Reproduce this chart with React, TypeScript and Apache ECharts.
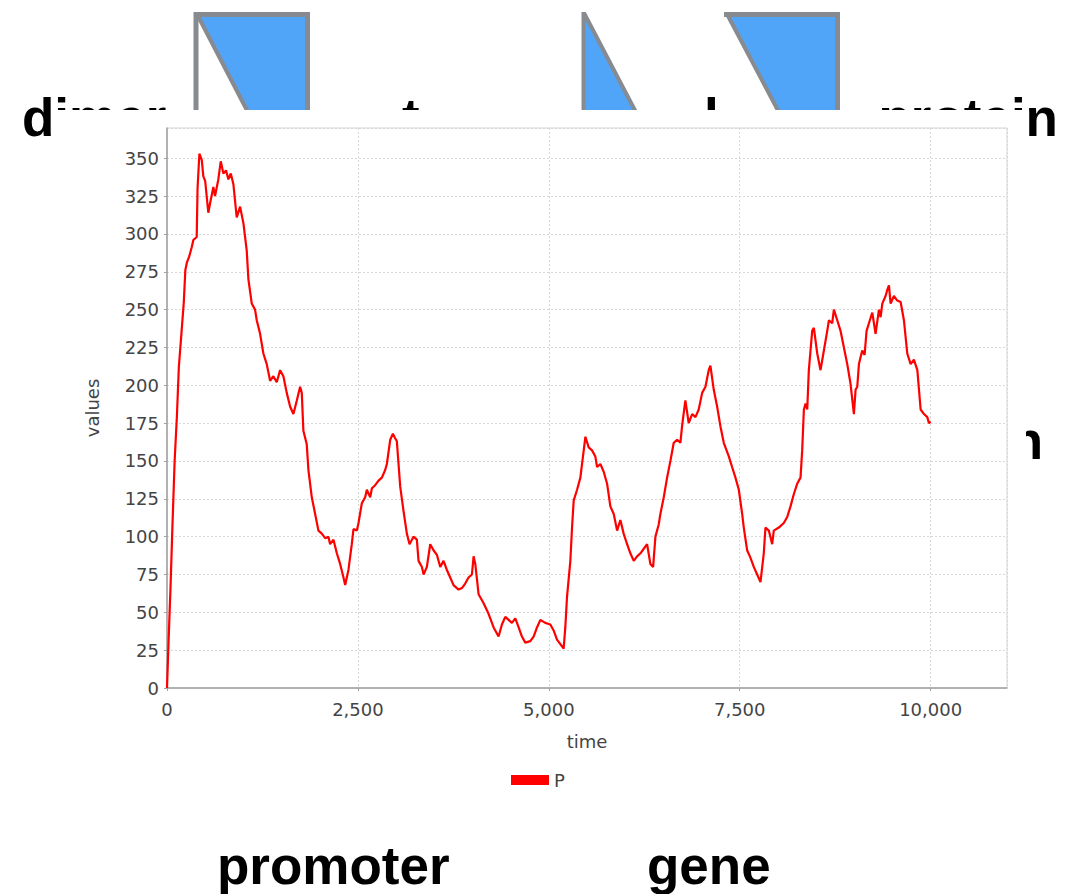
import React, { useEffect, useRef } from 'react';
import * as echarts from 'echarts';

// ---- data ----
const times = [
  0, 20, 45, 70, 100, 130, 155, 190, 220, 240, 260, 290, 323, 345, 389, 400, 424, 455, 476, 500,
  541, 563, 607, 629, 672, 704, 738, 773, 804, 835, 869, 913, 957, 1001, 1044, 1066, 1110, 1153, 1175, 1219,
  1262, 1306, 1350, 1393, 1437, 1481, 1524, 1568, 1612, 1655, 1700, 1743, 1765, 1786, 1830, 1852, 1896, 1940, 1983, 2027,
  2071, 2114, 2136, 2180, 2224, 2267, 2311, 2333, 2376, 2420, 2442, 2486, 2508, 2551, 2595, 2617, 2661, 2683, 2726, 2770,
  2814, 2857, 2879, 2923, 2958, 2988, 3010, 3054, 3097, 3141, 3176, 3228, 3272, 3294, 3338, 3360, 3403, 3447, 3490, 3534,
  3578, 3621, 3665, 3709, 3752, 3818, 3862, 3905, 3949, 3993, 4015, 4037, 4059, 4080, 4146, 4211, 4277, 4342, 4386, 4430,
  4474, 4517, 4561, 4605, 4648, 4692, 4757, 4801, 4845, 4889, 4954, 5020, 5063, 5107, 5151, 5194, 5216, 5238, 5282, 5304,
  5326, 5370, 5413, 5457, 5479, 5522, 5566, 5609, 5632, 5675, 5718, 5763, 5806, 5850, 5894, 5937, 5980, 6025, 6068, 6112,
  6156, 6200, 6243, 6287, 6330, 6366, 6396, 6439, 6461, 6505, 6549, 6592, 6636, 6680, 6723, 6745, 6788, 6832, 6877, 6920,
  6963, 7008, 7051, 7094, 7116, 7160, 7204, 7247, 7291, 7357, 7400, 7444, 7488, 7532, 7553, 7597, 7641, 7684, 7728, 7772,
  7815, 7837, 7881, 7925, 7946, 8012, 8077, 8122, 8165, 8208, 8253, 8296, 8318, 8340, 8362, 8384, 8405, 8449, 8471, 8515,
  8558, 8602, 8646, 8668, 8711, 8733, 8777, 8820, 8864, 8908, 8951, 8995, 9017, 9039, 9061, 9104, 9135, 9161, 9204, 9236,
  9279, 9323, 9345, 9367, 9410, 9432, 9454, 9476, 9519, 9563, 9607, 9650, 9694, 9738, 9781, 9826, 9869, 9913, 9956, 9978,
  10000,
];
const values = [
  0, 30, 65, 105, 150, 180, 212, 235, 255, 276, 281, 285, 291, 296, 298, 330, 353, 349, 338, 335,
  314, 320, 331, 325, 336, 348, 340, 342, 336, 340, 333, 311, 318, 307, 289, 270, 254, 250, 243, 234,
  221, 214, 203, 206, 202, 210, 206, 195, 186, 181, 190, 199, 195, 170, 161, 144, 126, 115, 104, 102,
  99, 100, 95, 98, 89, 82, 73, 68, 78, 95, 105, 104, 109, 122, 126, 131, 126, 132, 134, 137,
  139, 144, 148, 164, 168, 165, 163, 133, 117, 102, 95, 100, 98, 84, 80, 75, 80, 95, 91, 88,
  80, 84, 78, 73, 68, 65, 66, 69, 73, 75, 87, 82, 72, 62, 56, 49, 40, 34, 42, 47,
  45, 43, 46, 40, 34, 30, 31, 34, 40, 45, 43, 42, 38, 32, 29, 26, 40, 60, 84, 106,
  124, 131, 139, 157, 166, 159, 157, 153, 146, 148, 143, 135, 120, 115, 104, 111, 102, 95, 89, 84,
  87, 89, 92, 95, 82, 80, 100, 108, 115, 126, 139, 150, 162, 164, 162, 173, 190, 175, 181, 179,
  184, 195, 199, 210, 213, 197, 186, 173, 162, 153, 146, 139, 131, 115, 106, 91, 86, 80, 75, 70,
  89, 106, 104, 95, 104, 106, 109, 113, 120, 128, 135, 139, 157, 184, 188, 184, 210, 236, 238, 221,
  210, 223, 236, 243, 241, 250, 243, 236, 225, 214, 201, 181, 197, 199, 214, 223, 220, 236, 243, 248,
  234, 250, 245, 254, 259, 263, 266, 254, 259, 256, 255, 243, 221, 214, 217, 210, 184, 181, 179, 175,
  176,
];
const seriesName = 'P';
const xAxisTitle = 'time';
const yAxisTitle = 'values';
const topLeftLabel = 'dimer';
const topRightLabel = 'protein';
const bottomLabels = ['promoter', 'gene'];

const BLUE = '#50a5f8';
const GRAY = '#878a8e';
const BIG_FONT = 'bold 53px "Liberation Sans", Arial, sans-serif';

export default function App() {
  const ref = useRef<HTMLDivElement>(null);

  useEffect(() => {
    if (!ref.current) return;
    const chart = echarts.init(ref.current, null, { renderer: 'svg' });
    const data = times.map((t, i) => [t, values[i]]);

    const bg = (el: any) => ({ z: 1, ...el });
    const grayLine = (x1: number, y1: number, x2: number, y2: number, w: number) =>
      bg({ type: 'line', shape: { x1, y1, x2, y2 }, style: { stroke: GRAY, lineWidth: w } });
    const bigText = (text: string, x: number, y: number, align: string) =>
      bg({ type: 'text', style: { text, x, y, font: BIG_FONT, fill: '#000', textAlign: align, textVerticalAlign: 'middle' } });

    chart.setOption({
      animation: false,
      backgroundColor: '#ffffff',
      textStyle: { fontFamily: '"DejaVu Sans", sans-serif' },
      graphic: {
        elements: [
          // diagram shapes (partly hidden behind the chart)
          bg({ type: 'polygon', shape: { points: [[199, 17], [306, 17], [306, 120], [250, 120]] }, style: { fill: BLUE } }),
          grayLine(196, 12, 196, 120, 5),
          grayLine(194, 14.5, 310, 14.5, 5),
          grayLine(307.5, 12, 307.5, 120, 5),
          grayLine(198, 16, 252, 120, 4),

          bg({ type: 'polygon', shape: { points: [[585, 16], [640, 120], [585, 120]] }, style: { fill: BLUE } }),
          grayLine(583.5, 12, 583.5, 120, 4),
          grayLine(584, 13, 640, 120, 4),

          bg({ type: 'polygon', shape: { points: [[730, 17], [836, 17], [836, 120], [783, 120]] }, style: { fill: BLUE } }),
          grayLine(724, 14.5, 840, 14.5, 5),
          grayLine(837.5, 12, 837.5, 120, 5),
          grayLine(727, 14, 783, 120, 4),

          bigText(topLeftLabel, 22, 117, 'left'),
          bigText('t', 402, 117, 'left'),
          bigText('l', 704, 117, 'left'),
          bigText(topRightLabel, 1058, 117, 'right'),
          bigText('n', 1043, 440, 'right'),
          bigText(bottomLabels[0], 217, 865, 'left'),
          bigText(bottomLabels[1], 647, 865, 'left'),

          // white chart panel covering the diagram
          { type: 'rect', z: 2, shape: { x: 55, y: 110, width: 971, height: 710 }, style: { fill: '#ffffff' } },
        ],
      },
      grid: {
        left: 167,
        right: 68,
        top: 128,
        bottom: 206,
        show: true,
        backgroundColor: '#ffffff',
        borderColor: '#d4d4d4',
        borderWidth: 1,
        z: 3,
      },
      legend: {
        z: 6,
        data: [seriesName],
        left: 506,
        top: 766,
        icon: 'rect',
        itemWidth: 38,
        itemHeight: 10,
        itemGap: 8,
        textStyle: { fontSize: 18, color: '#444', fontFamily: '"DejaVu Sans", sans-serif' },
      },
      xAxis: {
        type: 'value',
        z: 4,
        min: 0,
        max: 11000,
        interval: 2500,
        name: xAxisTitle,
        nameLocation: 'middle',
        nameGap: 44,
        nameTextStyle: { fontSize: 18, color: '#444' },
        axisLine: { show: true, lineStyle: { color: '#a0a0a0', width: 1.5 } },
        axisTick: { show: true, length: 3, lineStyle: { color: '#a0a0a0' } },
        axisLabel: {
          fontSize: 18,
          color: '#444',
          margin: 12,
          showMaxLabel: false,
          formatter: (v: number) => v.toLocaleString('en-US'),
        },
        splitLine: { show: true, lineStyle: { color: '#d8d8d8', type: [2, 2], width: 1 } },
      },
      yAxis: {
        type: 'value',
        z: 4,
        min: 0,
        max: 370,
        interval: 25,
        name: yAxisTitle,
        nameLocation: 'middle',
        nameRotate: 90,
        nameGap: 66,
        nameTextStyle: { fontSize: 18, color: '#444' },
        axisLine: { show: true, lineStyle: { color: '#a0a0a0', width: 1.5 } },
        axisTick: { show: true, length: 3, lineStyle: { color: '#a0a0a0' } },
        axisLabel: { fontSize: 18, color: '#444', margin: 8, showMaxLabel: false },
        splitLine: { show: true, lineStyle: { color: '#d8d8d8', type: [2, 2], width: 1 } },
      },
      series: [
        {
          name: seriesName,
          type: 'line',
          z: 5,
          data,
          showSymbol: false,
          symbol: 'none',
          color: '#ff0000',
          lineStyle: { color: '#ff0000', width: 2.2 },
        },
      ],
    });
    return () => chart.dispose();
  }, []);

  return (
    <div
      ref={ref}
      style={{ position: 'fixed', left: 0, top: 0, width: 1075, height: 894, background: '#fff' }}
    />
  );
}
